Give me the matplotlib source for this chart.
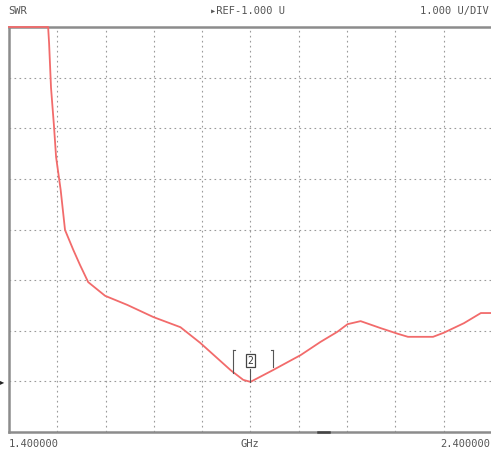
import matplotlib
matplotlib.use("Agg")
import matplotlib.pyplot as plt
import numpy as np

freq_ghz = [1.400, 1.481, 1.483, 1.487, 1.493, 1.4975, 1.507, 1.516, 1.533, 1.547,
            1.564, 1.599, 1.645, 1.699, 1.755, 1.796, 1.859, 1.885, 1.900, 1.946,
            2.004, 2.045, 2.080, 2.101, 2.128, 2.170, 2.205, 2.226, 2.278, 2.300,
            2.342, 2.377, 2.400]
swr = [8.0, 8.0, 7.68, 6.80, 6.06, 5.43, 4.78, 3.99, 3.60, 3.30,
       2.96, 2.69, 2.51, 2.27, 2.07, 1.76, 1.22, 1.03, 0.99, 1.22,
       1.52, 1.78, 1.98, 2.13, 2.19, 2.05, 1.94, 1.88, 1.88, 1.96,
       2.15, 2.35, 2.35]
f_start, f_stop = 1.4, 2.4
marker_freq, marker_val = 1.900, 0.99
header_left = "SWR"
header_mid = "\u25b8REF-1.000 U"
header_right = "1.000 U/DIV"
x_labels = ["1.400000", "GHz", "2.400000"]

fig = plt.figure(figsize=(4.91, 4.57), dpi=100)
ax = fig.add_axes([9/491, (457-432)/457, 1.0 - 9/491 + 0.002, (432-27)/457])
ax.set_xlim(f_start, f_stop)
ax.set_ylim(0, 8)
ax.set_xticks([])
ax.set_yticks([])

gc = '#9a9a9a'
for i in range(1, 10):
    ax.axvline(f_start + i*(f_stop-f_start)/10, color=gc, lw=0.8, ls=(0, (1.5, 3)), zorder=1)
for j in range(1, 8):
    ax.axhline(j, color=gc, lw=0.8, ls=(0, (1.5, 3)), zorder=1)

for s in ['top', 'left', 'bottom']:
    ax.spines[s].set_color('#8c8c8c')
    ax.spines[s].set_linewidth(1.8)
ax.spines['right'].set_visible(False)

ax.plot(freq_ghz, swr, color='#f26b6b', lw=1.3, zorder=3, clip_on=False)

# marker 2
mf, mv = marker_freq, marker_val
ax.plot([mf, mf], [mv, mv + 0.25], color='#555555', lw=0.8, zorder=4)
ax.text(mf, mv + 0.42, "2", ha='center', va='center', fontsize=7, family='DejaVu Sans Mono',
        color='#333333', zorder=5,
        bbox=dict(boxstyle='square,pad=0.15', fc='white', ec='#444444', lw=0.9))
ax.plot([mf - 0.036, mf - 0.036], [mv + 0.18, mv + 0.62], color='#555555', lw=0.8, zorder=4)
ax.plot([mf - 0.036, mf - 0.032], [mv + 0.62, mv + 0.62], color='#555555', lw=0.8, zorder=4)
ax.plot([mf + 0.046, mf + 0.046], [mv + 0.30, mv + 0.62], color='#555555', lw=0.8, zorder=4)
ax.plot([mf + 0.042, mf + 0.046], [mv + 0.62, mv + 0.62], color='#555555', lw=0.8, zorder=4)

# small mark on bottom frame
ax.plot([2.04, 2.062], [0, 0], color='#444444', lw=1.8, clip_on=False, zorder=6)

tc = '#555555'
fp = dict(family='DejaVu Sans Mono', fontsize=7.5, color=tc)
fig.text(8/491, 1 - 11/457, header_left, ha='left', va='center', **fp)
fig.text(247/491, 1 - 11/457, header_mid, ha='center', va='center', **fp)
fig.text(489/491, 1 - 11/457, header_right, ha='right', va='center', **fp)
fig.text(9/491, 1 - 444/457, x_labels[0], ha='left', va='center', **fp)
fig.text(250/491, 1 - 444/457, x_labels[1], ha='center', va='center', **fp)
fig.text(490/491, 1 - 444/457, x_labels[2], ha='right', va='center', **fp)
# reference arrow
fig.text(0/491, 1 - 382/457, "\u25b8", ha='left', va='center', fontsize=6, color='#222222')

fig.savefig("out.png", dpi=100)
